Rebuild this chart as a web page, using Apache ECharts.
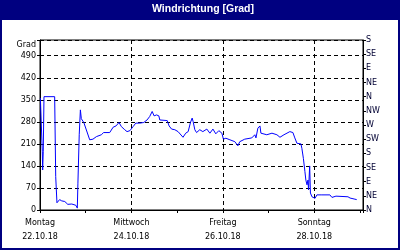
<!DOCTYPE html>
<html><head><meta charset="utf-8">
<script src="https://cdn.jsdelivr.net/npm/echarts@6/dist/echarts.min.js"></script>
<style>html,body{margin:0;padding:0;background:#fff}#c{width:400px;height:250px}</style>
</head><body><div id="c"></div>
<script>
// hours since 22.10.18 00:00
const hours = [0.2,1.05,1.2,1.4,1.7,2.1,7.7,8.25,8.9,10.3,11.4,13.0,14.6,15.6,16.7,17.7,18.8,19.6,19.9,20.6,21.2,21.7,22.3,23.0,26.1,27.8,29.6,32.2,33.4,36.6,37.4,38.4,39.9,41.5,42.7,44.5,45.7,47.2,48.9,50.3,52.4,54.5,56.2,57.6,58.9,59.9,61.2,62.4,62.9,66.8,67.8,69.1,69.9,70.8,72.5,75.1,76.5,77.8,79.0,79.9,80.4,81.3,82.2,83.9,85.5,87.6,89.2,90.8,92.3,93.9,95.5,96.3,97.6,99.7,102.3,103.9,104.9,107.5,111.2,112.8,113.4,114.4,115.5,116.0,119.1,121.8,124.4,126.0,128.1,131.2,132.8,133.8,134.9,135.9,137.0,137.5,138.3,139.1,139.6,140.2,140.7,141.0,141.6,142.0,142.8,144.4,145.4,148.0,152.2,153.3,155.4,161.7,162.8,163.8,164.9,166.3];
const degrees = [356,356,185,127,185,360,360,106,23,33,29,27,18,13,19,18,15,6,83,239,318,290,287,278,223,225,233,239,246,246,249,263,267,278,265,255,249,252,265,276,276,278,286,297,313,299,302,299,286,284,267,257,263,255,249,231,244,249,278,292,281,255,246,255,249,257,244,257,242,252,244,225,228,223,217,204,217,225,229,239,229,260,267,244,239,244,239,231,239,249,246,229,212,217,210,196,164,122,95,80,95,64,140,54,42,37,48,48,48,40,44,42,38,32,35,33];
const dayNames = ['Montag','Mittwoch','Freitag','Sonntag'];
const dateLabels = ['22.10.18','24.10.18','26.10.18','28.10.18'];
const compass = ['N','NE','E','SE','S','SW','W','NW','N','NE','E','SE','S'];
const titleText = 'Windrichtung [Grad]';
const yName = 'Grad';

const data = hours.map((h,i)=>[h,degrees[i]]);
const F = 'DejaVu Sans';
const chart = echarts.init(document.getElementById('c'), null, {renderer:'canvas'});
chart.setOption({
  animation:false,
  backgroundColor:'#fff',
  grid:{left:40,right:37,top:40,bottom:40,show:true,borderColor:'#000',borderWidth:1,backgroundColor:'transparent'},
  graphic:[
    {type:'rect',shape:{x:0,y:0,width:400,height:20},style:{fill:'#000080'},z:0},
    {type:'rect',shape:{x:1,y:1,width:398,height:248},style:{fill:'none',stroke:'#000080',lineWidth:2},z:0},
    {type:'text',x:203,y:9,style:{text:titleText,fill:'#fff',font:'bold 10.5px "Liberation Sans"',textAlign:'center',textVerticalAlign:'middle'},z:10},
    {type:'text',x:36,y:45,style:{text:yName,fill:'#000',font:'8px "DejaVu Sans"',textAlign:'right',textVerticalAlign:'middle'},z:10}
  ],
  xAxis:{type:'value',min:0,max:169.6,interval:48,
    axisLine:{lineStyle:{color:'#000',width:1}},
    axisTick:{show:true,length:3,lineStyle:{color:'#000'}},
    minorTick:{show:true,splitNumber:2,length:3,lineStyle:{color:'#000'}},
    splitLine:{show:true,lineStyle:{type:[4,3],color:'#000',width:1}},
    axisLabel:{fontFamily:F,fontSize:8,color:'#000',lineHeight:14,margin:6,
      formatter:v=>{const i=v/48; return (Number.isInteger(i)&&i<dayNames.length)?dayNames[i]+'\n'+dateLabels[i]:'';}}
  },
  yAxis:[
    {type:'value',min:0,max:540,interval:70,position:'left',
      axisLine:{show:true,lineStyle:{color:'#000'}},
      axisTick:{show:true,length:3,lineStyle:{color:'#000'}},
      splitLine:{show:true,lineStyle:{type:[4,3],color:'#000',width:1}},
      axisLabel:{fontFamily:F,fontSize:8,color:'#000',margin:4,formatter:v=>(v%70===0?String(v):'')}
    },
    {type:'value',min:0,max:540,interval:45,position:'right',
      axisLine:{show:true,lineStyle:{color:'#000'}},
      axisTick:{show:true,length:3,lineStyle:{color:'#000'}},
      splitLine:{show:false},
      axisLabel:{fontFamily:F,fontSize:8,color:'#000033',margin:3,formatter:v=>compass[Math.round(v/45)]||''}
    }
  ],
  series:[{type:'line',yAxisIndex:0,data:data,showSymbol:false,symbol:'none',
    lineStyle:{color:'#0000ff',width:1},z:5}]
});
</script></body></html>
